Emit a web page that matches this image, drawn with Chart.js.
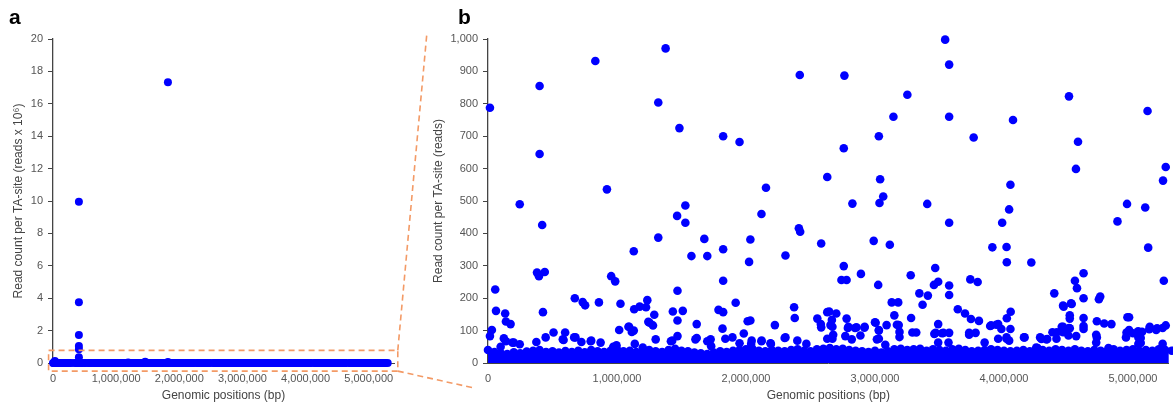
<!DOCTYPE html>
<html>
<head>
<meta charset="utf-8">
<script src="https://cdn.jsdelivr.net/npm/chart.js@4/dist/chart.umd.min.js"></script>
<style>
  body { margin: 0; background: #fff; }
  #wrap { position: relative; width: 1173px; height: 405px; overflow: hidden; }
  canvas { position: absolute; top: 0; }
  #chartA { left: 0; }
  #chartB { left: 430px; }
</style>
</head>
<body>
<div id="wrap">
  <canvas id="chartA" width="480" height="405"></canvas>
  <canvas id="chartB" width="743" height="405"></canvas>
</div>
<script>
const FONT = "'Liberation Sans', Arial, sans-serif";
const BLUE = "#0000ff";
const ORANGE = "#f39a66";

// tick labels
const xTicks = [0, 1000000, 2000000, 3000000, 4000000, 5000000];
const yTicksA = [0, 2, 4, 6, 8, 10, 12, 14, 16, 18, 20];
const yTicksB = [0, 100, 200, 300, 400, 500, 600, 700, 800, 900, 1000];

// very high TA-sites (only visible on panel a)
const peakPos = [410000, 410000, 410000, 410000, 410000, 410000, 1820000, 30000, 1460000, 1820000, 1190000];
const peakReads = [9960000, 3750000, 1730000, 1050000, 850000, 350000, 17330000, 120000, 80000, 60000, 30000];

// TA-sites between 300 and 1,000 reads
const highPos = [
  15000, 400000, 400000, 246000, 420000, 832000, 922000, 1377000, 1320000, 1484000,
  1466000, 1530000, 1530000, 1320000, 1130000, 1823000, 1950000, 1677000, 1823000, 2034000,
  2155000, 2120000, 2417000, 2410000, 2420000, 2763000, 3544000, 3575000, 3251000, 3143000,
  3575000, 4070000, 4504000, 5113000, 3030000, 2758000, 3765000, 4574000, 2630000, 3040000,
  4558000, 5254000, 5233000, 4050000, 3064000, 3035000, 2825000, 3405000, 4040000, 4954000,
  5095000, 3575000, 3986000, 4880000, 2583000, 2990000, 3115000, 3910000, 4020000, 5118000,
  1577000, 1700000, 2024000, 2306000, 4022000, 4212000
];
const highReads = [
  788, 855, 645, 490, 426, 932, 536, 971, 804, 725,
  454, 486, 433, 387, 345, 700, 682, 383, 351, 381,
  541, 460, 889, 416, 405, 887, 998, 921, 828, 760,
  760, 750, 823, 778, 700, 663, 696, 683, 574, 567,
  599, 605, 563, 550, 514, 494, 492, 491, 474, 491,
  480, 433, 433, 437, 369, 377, 365, 357, 358, 356,
  330, 330, 312, 332, 311, 310
];

// TA-sites between 100 and 300 reads
const midPos = [
  56000, 30000, 62000, 133000, 139000, 175000, 426000, 673000, 734000, 753000,
  860000, 1027000, 1017000, 1094000, 1130000, 1133000, 1176000, 1225000, 1235000, 1243000,
  1279000, 1289000, 1433000, 1469000, 1469000, 1510000, 1618000, 1787000, 1823000, 1818000,
  1920000, 2013000, 2034000, 2224000, 2373000, 2378000, 2758000, 2740000, 2780000, 2891000,
  3025000, 3277000, 3467000, 3457000, 3490000, 3575000, 3575000, 3344000, 3410000, 3369000,
  3130000, 3180000, 3150000, 3280000, 3184000, 3000000, 3090000, 3030000, 2645000, 2700000,
  2553000, 2583000, 2666000, 2655000, 2780000, 2790000, 2845000, 2918000, 3642000, 3698000,
  3744000, 3806000, 3739000, 3796000, 4052000, 4022000, 3893000, 3940000, 3980000, 4050000,
  3490000, 4390000, 4550000, 4617000, 4566000, 4617000, 4520000, 4458000, 4510000, 4510000,
  4617000, 4617000, 4617000, 4458000, 4510000, 4746000, 4736000, 4720000, 4777000, 4833000,
  4957000, 4970000, 4970000, 5040000, 5126000, 5187000, 5254000, 5239000, 2580000, 2630000,
  1089000, 1253000, 3005000, 3170000, 3955000, 3900000, 4463000, 4525000, 380000, 395000,
  440000, 955000, 986000, 1823000, 2670000, 2794000, 2856000, 2920000, 4448000, 4505000,
  5130000, 5230000, 5180000, 3030000
];
const midReads = [
  227, 102, 161, 153, 128, 120, 157, 200, 188, 178,
  187, 183, 102, 112, 100, 166, 174, 172, 194, 127,
  116, 149, 159, 223, 131, 161, 120, 164, 157, 106,
  186, 129, 131, 117, 172, 139, 299, 256, 256, 275,
  241, 271, 293, 241, 251, 239, 210, 215, 208, 180,
  187, 187, 147, 139, 117, 126, 117, 102, 159, 153,
  137, 110, 133, 117, 137, 108, 108, 109, 166, 153,
  136, 130, 258, 250, 158, 138, 114, 118, 105, 105,
  120, 215, 254, 277, 231, 200, 184, 177, 147, 137,
  139, 114, 105, 112, 107, 205, 197, 129, 122, 120,
  141, 141, 102, 98, 104, 107, 116, 254, 120, 157,
  112, 124, 124, 118, 120, 116, 174, 182, 279, 268,
  281, 268, 252, 254, 112, 112, 110, 112, 112, 108,
  112, 108, 102, 100
];

// TA-sites between 40 and 100 reads
const lowPos = [
  15000, 123000, 190000, 246000, 98000, 447000, 375000, 508000, 598000, 580000,
  678000, 724000, 800000, 1138000, 1300000, 1200000, 1469000, 1428000, 1608000, 1726000,
  1840000, 1895000, 1983000, 2044000, 2121000, 2193000, 2306000, 2398000, 2468000, 2670000,
  3190000, 3190000, 3470000, 3530000, 3575000, 3730000, 3780000, 3955000, 4020000, 3850000,
  4160000, 4290000, 4335000, 4376000, 4410000, 4458000, 4720000, 4810000, 5060000, 5060000,
  4946000, 4260000, 139000, 200000, 586000, 668000, 796000, 873000, 996000, 971000,
  1418000, 1618000, 1700000, 1730000, 1950000, 2040000, 2120000, 2190000, 2300000, 2630000,
  2676000, 2770000, 2820000, 2887000, 3290000, 3320000, 3460000, 3520000, 3015000, 3080000,
  3490000, 3570000, 3730000, 4020000, 4040000, 4155000, 4250000, 4270000, 4280000, 4330000,
  4407000, 4474000, 4500000, 4560000, 4715000, 4715000, 4950000, 5000000, 5070000, 5042000,
  5042000, 5230000, 1115000, 3030000
];
const lowReads = [
  83, 76, 63, 58, 50, 79, 65, 94, 94, 73,
  79, 65, 69, 59, 73, 48, 83, 69, 73, 73,
  75, 79, 91, 69, 69, 59, 79, 69, 59, 75,
  96, 80, 93, 93, 93, 93, 93, 75, 75, 63,
  79, 74, 74, 95, 95, 95, 79, 46, 77, 62,
  79, 46, 67, 63, 71, 79, 67, 63, 55, 50,
  67, 77, 67, 52, 61, 59, 67, 61, 77, 75,
  87, 83, 73, 85, 94, 94, 90, 92, 73, 56,
  63, 63, 87, 79, 69, 79, 48, 38, 79, 73,
  75, 96, 85, 83, 87, 63, 94, 92, 96, 79,
  59, 59, 96, 75
];

// upper edge of the dense band of low-count TA-sites
const bandPos = [
  0, 50000, 100000, 150000, 200000, 250000, 300000, 350000, 400000, 450000,
  500000, 550000, 600000, 650000, 700000, 750000, 800000, 850000, 900000, 950000,
  1000000, 1050000, 1100000, 1150000, 1200000, 1250000, 1300000, 1350000, 1400000, 1450000,
  1500000, 1550000, 1600000, 1650000, 1700000, 1750000, 1800000, 1850000, 1900000, 1950000,
  2000000, 2050000, 2100000, 2150000, 2200000, 2250000, 2300000, 2350000, 2400000, 2450000,
  2500000, 2550000, 2600000, 2650000, 2700000, 2750000, 2800000, 2850000, 2900000, 2950000,
  3000000, 3050000, 3100000, 3150000, 3200000, 3250000, 3300000, 3350000, 3400000, 3450000,
  3500000, 3550000, 3600000, 3650000, 3700000, 3750000, 3800000, 3850000, 3900000, 3950000,
  4000000, 4050000, 4100000, 4150000, 4200000, 4250000, 4300000, 4350000, 4400000, 4450000,
  4500000, 4550000, 4600000, 4650000, 4700000, 4750000, 4800000, 4850000, 4900000, 4950000,
  5000000, 5050000, 5100000, 5150000, 5200000, 5250000, 5300000
];
const bandReads = [
  40, 34, 30, 28, 33, 30, 35, 38, 40, 34,
  36, 32, 37, 34, 38, 33, 40, 36, 34, 38,
  42, 36, 38, 34, 38, 40, 36, 34, 40, 44,
  38, 36, 32, 30, 28, 32, 36, 34, 38, 40,
  42, 44, 38, 36, 40, 38, 36, 40, 42, 38,
  36, 42, 44, 46, 42, 44, 40, 38, 36, 34,
  38, 32, 36, 42, 44, 40, 42, 44, 38, 42,
  40, 38, 42, 44, 40, 36, 38, 40, 42, 40,
  38, 36, 38, 40, 36, 38, 40, 38, 42, 40,
  38, 42, 38, 36, 40, 38, 36, 42, 38, 40,
  42, 38, 40, 38, 42, 40, 38
];

// build {x, y} points, y divided by unit
function toPoints(pos, reads, unit) {
  return pos.map((p, i) => ({ x: p, y: reads[i] / unit }));
}

function scatterSet(pos, reads, unit, radius) {
  return {
    type: "scatter",
    data: toPoints(pos, reads, unit),
    pointRadius: radius,
    pointBackgroundColor: BLUE,
    pointBorderWidth: 0,
    clip: false
  };
}

function bandSet(unit, radius, floor) {
  return {
    type: "line",
    data: toPoints(bandPos, bandReads, unit),
    showLine: true,
    borderColor: BLUE,
    borderWidth: 1,
    backgroundColor: BLUE,
    fill: { value: floor },
    tension: 0,
    pointRadius: radius,
    pointBackgroundColor: BLUE,
    pointBorderWidth: 0,
    clip: false
  };
}

function buildScales(cfg) {
  return {
    x: {
      type: "linear",
      min: 0,
      max: cfg.xMax,
      afterFit: s => { s.height = 42; },
      afterBuildTicks: s => { s.ticks = xTicks.map(v => ({ value: v })); },
      grid: { display: false, drawTicks: false },
      border: { display: true, color: "#444", width: 1 },
      ticks: {
        padding: 9,
        color: "#555",
        maxRotation: 0,
        autoSkip: false,
        font: { family: FONT, size: 11 },
        callback: v => v.toLocaleString("en-US")
      },
      title: {
        display: true,
        text: "Genomic positions (bp)",
        color: "#444",
        font: { family: FONT, size: 12 },
        padding: { top: 0, bottom: 2 }
      }
    },
    y: {
      type: "linear",
      min: 0,
      max: cfg.yMax,
      afterFit: s => { s.width = cfg.yWidth; },
      afterBuildTicks: s => { s.ticks = cfg.yTicks.map(v => ({ value: v })); },
      grid: { display: true, drawOnChartArea: false, drawTicks: true, tickLength: 5, color: "#444", lineWidth: 1 },
      border: { display: true, color: "#444", width: 1.3 },
      ticks: {
        padding: 5,
        color: "#555",
        font: { family: FONT, size: 11 },
        callback: v => v.toLocaleString("en-US")
      },
      title: {
        display: true,
        text: cfg.yTitle,
        color: "#444",
        font: { family: FONT, size: 12 },
        padding: { top: cfg.titlePad, bottom: 0 }
      }
    }
  };
}

// panel letter, plus the zoom box on panel a
function decorPlugin(letter, lx, drawBox) {
  return {
    id: "decor",
    afterDraw(chart) {
      const ctx = chart.ctx;
      ctx.save();
      ctx.fillStyle = "#000";
      ctx.font = "bold 21px " + FONT;
      ctx.textBaseline = "alphabetic";
      ctx.fillText(letter, lx, 24);
      if (drawBox) {
        const x = chart.scales.x, y = chart.scales.y;
        const left = x.getPixelForValue(-70000);
        const right = x.getPixelForValue(5460000);
        const top = y.getPixelForValue(0.78);
        const bottom = y.getPixelForValue(-0.5);
        ctx.strokeStyle = ORANGE;
        ctx.lineWidth = 1.6;
        ctx.setLineDash([6, 4]);
        ctx.strokeRect(left, top, right - left, bottom - top);
        ctx.beginPath();
        ctx.moveTo(right, top);
        ctx.lineTo(427, 32);
        ctx.moveTo(right, bottom);
        ctx.lineTo(474, 388);
        ctx.stroke();
      }
      ctx.restore();
    }
  };
}

function makeChart(el, cfg) {
  return new Chart(el, {
    type: "scatter",
    data: { datasets: cfg.datasets },
    options: {
      responsive: false,
      animation: false,
      events: [],
      layout: { padding: { top: 39, right: cfg.padRight, bottom: 0, left: 0 } },
      plugins: { legend: { display: false }, tooltip: { enabled: false } },
      scales: buildScales(cfg)
    },
    plugins: [cfg.decor]
  });
}

const MILLION = 1000000;

makeChart(document.getElementById("chartA"), {
  datasets: [
    bandSet(MILLION, 4, -0.25),
    scatterSet(lowPos, lowReads, MILLION, 4),
    scatterSet(midPos, midReads, MILLION, 4),
    scatterSet(highPos, highReads, MILLION, 4),
    scatterSet(peakPos, peakReads, MILLION, 4)
  ],
  xMax: 5400000,
  yMax: 20,
  yTicks: yTicksA,
  yWidth: 53,
  yTitle: "Read count per TA-site (reads x 10\u2076)",
  titlePad: 11,
  padRight: 86,
  decor: decorPlugin("a", 9, true)
});

makeChart(document.getElementById("chartB"), {
  datasets: [
    bandSet(1, 4.3, -12),
    scatterSet(lowPos, lowReads, 1, 4.3),
    scatterSet(midPos, midReads, 1, 4.3),
    scatterSet(highPos, highReads, 1, 4.3),
    scatterSet(peakPos, peakReads, 1, 4.3)
  ],
  xMax: 5277000,
  yMax: 1000,
  yTicks: yTicksB,
  yWidth: 58,
  yTitle: "Read count per TA-site (reads)",
  titlePad: 1,
  padRight: 0,
  decor: decorPlugin("b", 28, false)
});
</script>
</body>
</html>
